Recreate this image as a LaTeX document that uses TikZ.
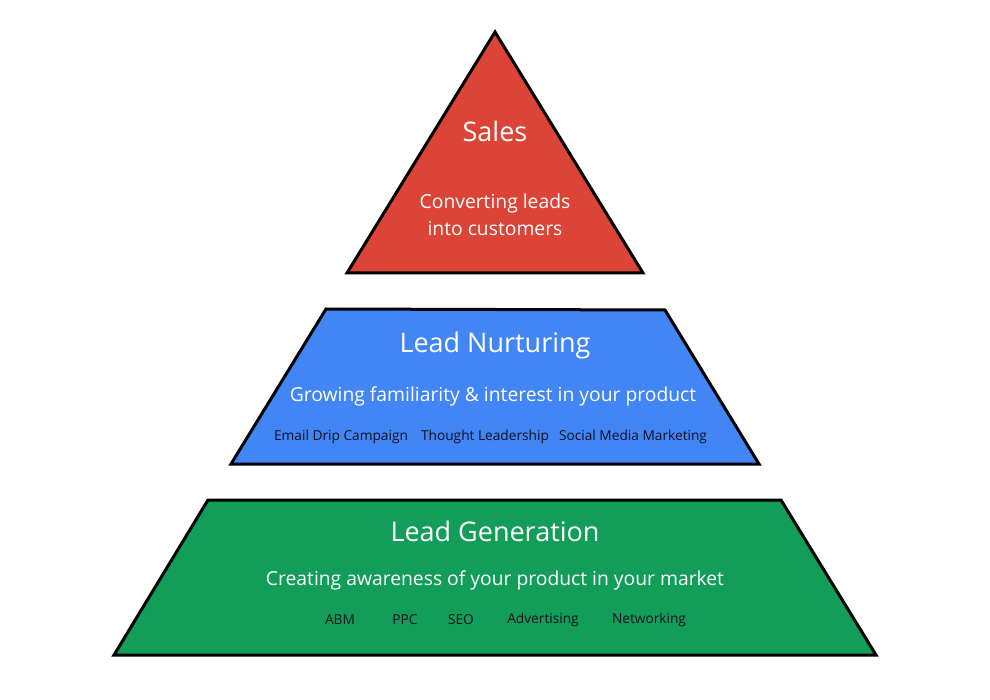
\documentclass[tikz,border=0pt]{standalone}
\usepackage{fontspec}
\setmainfont{Open Sans}
\definecolor{salesred}{HTML}{DB4437}
\definecolor{nurtblue}{HTML}{4285F4}
\definecolor{gengreen}{HTML}{129E58}
\definecolor{darktext}{HTML}{111122}
\begin{document}
\begin{tikzpicture}[x=1pt,y=-1pt,
  tier/.style={draw=black,line width=3pt,line join=miter},
  title/.style={text=white,font=\fontsize{27}{31}\selectfont,anchor=center,inner sep=0pt},
  sub/.style={text=white,font=\fontsize{19.3}{23}\selectfont,anchor=center,inner sep=0pt},
  item/.style={text=darktext,font=\fontsize{13.7}{16}\selectfont,anchor=center,inner sep=0pt}]
\useasboundingbox (0,0) rectangle (990,700);
% tiers
\filldraw[tier,fill=salesred] (495,32) -- (643,273) -- (347,273) -- cycle;
\filldraw[tier,fill=nurtblue] (326,309) -- (665,310) -- (759,464) -- (231,464) -- cycle;
\filldraw[tier,fill=gengreen] (208,500) -- (781,500) -- (876,655) -- (114,655) -- cycle;
% sales
\node[title] (sales) at (495,131) {Sales};
\node[sub] (salesA) at (495,203) {Converting leads};
\node[sub] (salesB) at (495,229) {into customers};
% nurturing
\node[title] (nurt) at (495,345) {Lead Nurturing};
\node[sub] (nurtsub) at (493,396) {Growing familiarity \& interest in your product};
\node[item] (email) at (341,437) {Email Drip Campaign};
\node[item] (thought) at (485,437) {Thought Leadership};
\node[item] (social) at (633,437) {Social Media Marketing};
% generation
\node[title] (gen) at (495,531) {Lead Generation};
\node[sub] (gensub) at (495,580) {Creating awareness of your product in your market};
\node[item] (abm) at (340,620) {ABM};
\node[item] (ppc) at (405,620) {PPC};
\node[item] (seo) at (461,620) {SEO};
\node[item] (adv) at (543,620) {Advertising};
\node[item] (net) at (649,620) {Networking};
\end{tikzpicture}
\end{document}
